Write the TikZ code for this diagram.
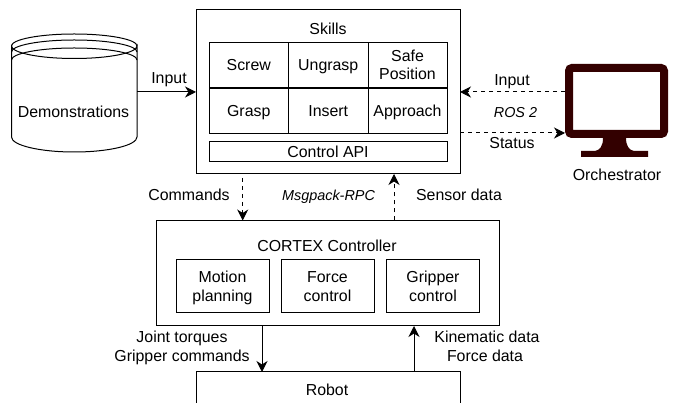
\documentclass[tikz,border=0pt]{standalone}
\usepackage{fontspec}
\setmainfont{Liberation Sans}
\usetikzlibrary{arrows.meta}
\definecolor{mon}{HTML}{330000}
\tikzset{
  x=1pt,y=-1pt,
  every node/.style={font=\fontsize{15.9}{18.6}\selectfont,inner sep=0pt,outer sep=0pt,align=center,text height=11.4pt,text depth=0pt},
  twolines/.style={text height=30pt,text depth=0pt},
  ital/.style={font=\fontsize{14.4}{18.6}\selectfont\itshape},
  box/.style={draw,line width=1pt,minimum width=#1},
  tip/.style={-{Stealth[length=11pt,width=11pt,inset=3.5pt]}},
  solidarrow/.style={tip,line width=1pt},
  dasharrow/.style={tip,line width=1pt,dash pattern=on 4pt off 4pt},
}
\begin{document}
\begin{tikzpicture}
\clip (0,0) rectangle (673,403);
\fill[white] (0,0) rectangle (673,403);
% cylinder
\draw[line width=1pt,fill=white] (11.5,46) arc[x radius=62.75,y radius=12.5,start angle=180,end angle=0]
  -- (137,137) arc[x radius=62.75,y radius=15,start angle=0,end angle=180] -- cycle;
\draw[line width=1pt] (11.5,46) arc[x radius=62.75,y radius=12,start angle=180,end angle=360];
\draw[line width=1pt] (11.5,52) arc[x radius=62.75,y radius=12,start angle=180,end angle=360];
\draw[line width=1pt] (11.5,60) arc[x radius=62.75,y radius=12,start angle=180,end angle=360];
\node[minimum width=125.5pt,minimum height=119pt] (demo) at (74.25,92) {};
\node (demolab) at (73.5,112) {Demonstrations};
% skills
\node[box=264pt,minimum height=164pt] (skills) at (328,92) {};
\node (skillslab) at (328,29) {Skills};
\node[box=79.5pt,minimum height=44.8pt] (screw) at (248.75,65) {Screw};
\node[box=79.5pt,minimum height=44.8pt] (ungrasp) at (328.25,65) {Ungrasp};
\node[box=79pt,minimum height=44.8pt,twolines] (safe) at (407.5,65) {Safe\\Position};
\node[box=79.5pt,minimum height=45pt] (grasp) at (248.75,111) {Grasp};
\node[box=79.5pt,minimum height=45pt] (insert) at (328.25,111) {Insert};
\node[box=79pt,minimum height=45pt] (approach) at (407.5,111) {Approach};
\node[box=238pt,minimum height=19.5pt] (api) at (328,151.5) {Control API};
% monitor
\node[draw=mon,line width=8pt,rounded corners=3pt,minimum width=95pt,minimum height=66pt] (monitor) at (616.5,101) {};
\fill[mon] (603,138) .. controls (603,146) and (600,150) .. (595,151) -- (581,151) -- (581,157) -- (648,157) -- (648,151)
  -- (634,151) .. controls (629,150) and (626,146) .. (626,138) -- cycle;
\node (orch) at (617,175) {Orchestrator};
\coordinate (inY) at (569,92);
\coordinate (stY) at (565,133);
\draw[dasharrow] (monitor.west |- inY) ++(-4,0) -- (skills.east |- inY);
\draw[dasharrow] (skills.east |- stY) -- (stY);
\node (inputR) at (512,80) {Input};
\node[ital] (ros) at (515.5,112) {ROS 2};
\node (status) at (512,143) {Status};
% input left
\draw[solidarrow] (demo.east) -- (skills.west |- demo.east);
\node (inputL) at (169,78) {Input};
% cortex
\node[box=342.5pt,minimum height=105.5pt] (cortex) at (328,273.25) {};
\node (cortexlab) at (327,246) {CORTEX Controller};
\node[box=93pt,minimum height=53pt,twolines] (motion) at (222.5,286.5) {Motion\\planning};
\node[box=93pt,minimum height=53pt,twolines] (force) at (327.5,286.5) {Force\\control};
\node[box=93pt,minimum height=53pt,twolines] (gripper) at (433,286.5) {Gripper\\control};
% dashed vertical
\coordinate (cmdS) at (242.7,178);
\coordinate (senS) at (394,220);
\draw[dasharrow] (cmdS) -- (cortex.north -| cmdS);
\draw[dasharrow] (cortex.north -| senS) -- (skills.south -| senS);
\node (cmd) at (189,195) {Commands};
\node[ital] (msg) at (328.5,195) {Msgpack-RPC};
\node (sensor) at (459,195) {Sensor data};
% robot
\node[box=263.5pt,minimum height=60pt] (robot) at (328.25,402) {};
\node (robotlab) at (327,390) {Robot};
\coordinate (dn) at (262,326);
\coordinate (up) at (414,326);
\draw[solidarrow] (cortex.south -| dn) -- (robot.north -| dn);
\draw[solidarrow] (robot.north -| up) -- (cortex.south -| up);
\node (jt) at (182,337) {Joint torques};
\node (gc) at (182,356) {Gripper commands};
\node (kd) at (487,337) {Kinematic data};
\node (fd) at (485,356) {Force data};
\end{tikzpicture}
\end{document}
